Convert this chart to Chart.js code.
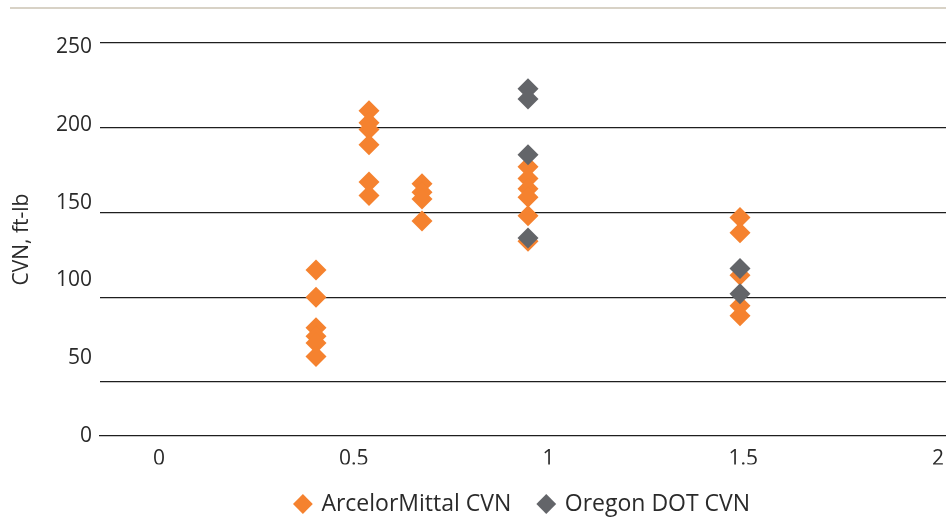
<!DOCTYPE html>
<html>
<head>
<meta charset="utf-8">
<script src="https://cdn.jsdelivr.net/npm/chart.js@4.4.1/dist/chart.umd.min.js"></script>
<style>
  html, body { margin: 0; padding: 0; background: #fff; }
  #wrap { position: relative; width: 946px; height: 526px; }
  #topRule { position: absolute; left: 10px; right: 0; top: 7px; height: 2px; background: #d8d2c6; }
  canvas { position: absolute; left: 0; top: 0; }
</style>
</head>
<body>
<div id="wrap">
  <div id="topRule"></div>
  <canvas id="cvnChart" width="946" height="526"></canvas>
</div>
<script>
// Plate thickness (in) vs CVN (ft-lb)
const arcelorX = [0.5, 0.5, 0.5, 0.5, 0.5, 0.5,
                  0.625, 0.625, 0.625, 0.625, 0.625, 0.625,
                  0.75, 0.75, 0.75, 0.75,
                  1, 1, 1, 1, 1, 1,
                  1.5, 1.5, 1.5, 1.5, 1.5];
const arcelorY = [116, 100, 82, 77, 73, 65,
                  210, 203, 199, 190, 168, 160,
                  167, 162, 158, 145,
                  177, 170, 164, 159, 148, 133,
                  147, 138, 113, 95, 89];
const oregonX = [1, 1, 1, 1, 1.5, 1.5];
const oregonY = [223, 217, 184, 135, 117, 102];

const xTickValues = [0, 0.5, 1, 1.5, 2];
const xTickLabels = ['0', '0.5', '1', '1.5', '2'];
const yTickValues = [0, 50, 100, 150, 200, 250];
const yTickLabels = ['0', '50', '100', '150', '200', '250'];
const yGridValues = [50, 100, 150, 200, 250];

const ORANGE = '#f5822f';
const GREY = '#636569';
const LINE = '#1e1e1e';
const TEXT = '#2a2a2a';

Chart.defaults.font.family = "'Open Sans', sans-serif";
Chart.defaults.color = TEXT;

const toPoints = (xs, ys) => xs.map((x, i) => ({ x: x, y: ys[i] }));

const ctx = document.getElementById('cvnChart').getContext('2d');
new Chart(ctx, {
    type: 'scatter',
    data: {
        datasets: [{
            label: 'ArcelorMittal CVN',
            data: toPoints(arcelorX, arcelorY),
            backgroundColor: ORANGE,
            borderWidth: 0,
            pointStyle: 'rectRot',
            pointRadius: 10.5,
            pointHoverRadius: 10.5,
            order: 1
        }, {
            label: 'Oregon DOT CVN',
            data: toPoints(oregonX, oregonY),
            backgroundColor: GREY,
            borderWidth: 0,
            pointStyle: 'rectRot',
            pointRadius: 10.5,
            pointHoverRadius: 10.5,
            order: 0
        }]
    },
    options: {
        responsive: false,
        animation: false,
        layout: { autoPadding: false, padding: { top: 43, right: 0, bottom: 0.5, left: 0 } },
        scales: {
            // data axis, only the baseline is shown
            x: {
                type: 'linear',
                position: 'bottom',
                weight: 0,
                bounds: 'data',
                min: -0.0094,
                max: 1.9858,
                grid: { display: false, drawTicks: false },
                border: { display: true, color: LINE, width: 1.3 },
                ticks: { display: false },
                afterFit: s => { s.height = 0; s.paddingLeft = 0; s.paddingRight = 0; }
            },
            // label axis for the x tick texts
            xl: {
                type: 'linear',
                position: 'bottom',
                weight: 1,
                bounds: 'data',
                min: -0.1515,
                max: 2.0205,
                grid: { display: false, drawTicks: false },
                border: { display: false },
                afterBuildTicks: s => { s.ticks = xTickValues.map(v => ({ value: v })); },
                ticks: {
                    padding: 10,
                    font: { size: 21 },
                    maxRotation: 0,
                    autoSkip: false,
                    callback: (v) => xTickLabels[xTickValues.indexOf(v)]
                },
                afterFit: s => { s.height = 28.5; s.paddingLeft = 0; s.paddingRight = 0; }
            },
            y: {
                type: 'linear',
                position: 'left',
                weight: 0,
                bounds: 'data',
                min: 18.1,
                max: 250,
                afterBuildTicks: s => { s.ticks = yGridValues.map(v => ({ value: v })); },
                grid: { color: LINE, lineWidth: 1.3, drawTicks: false },
                border: { display: false },
                ticks: { display: false },
                afterFit: s => { s.width = 0; s.paddingTop = 0; s.paddingBottom = 0; }
            },
            yl: {
                type: 'linear',
                position: 'left',
                weight: 1,
                bounds: 'data',
                min: 0,
                max: 252.6,
                afterBuildTicks: s => { s.ticks = yTickValues.map(v => ({ value: v })); },
                grid: { display: false, drawTicks: false },
                border: { display: false },
                ticks: {
                    padding: 8,
                    font: { size: 21 },
                    autoSkip: false,
                    callback: (v) => yTickLabels[yTickValues.indexOf(v)]
                },
                title: {
                    display: true,
                    text: 'CVN, ft-lb',
                    font: { size: 21 },
                    padding: { top: 9.4, bottom: 0 }
                },
                afterFit: s => { s.width = 100; s.paddingTop = 0; s.paddingBottom = 0; }
            }
        },
        plugins: {
            legend: {
                position: 'bottom',
                fullSize: false,
                labels: {
                    usePointStyle: true,
                    pointStyle: 'rectRot',
                    boxWidth: 14,
                    boxHeight: 14,
                    padding: 28,
                    color: TEXT,
                    font: { size: 23 },
                    sort: (a, b) => a.datasetIndex - b.datasetIndex
                }
            },
            tooltip: { enabled: false }
        }
    }
});
</script>
</body>
</html>
